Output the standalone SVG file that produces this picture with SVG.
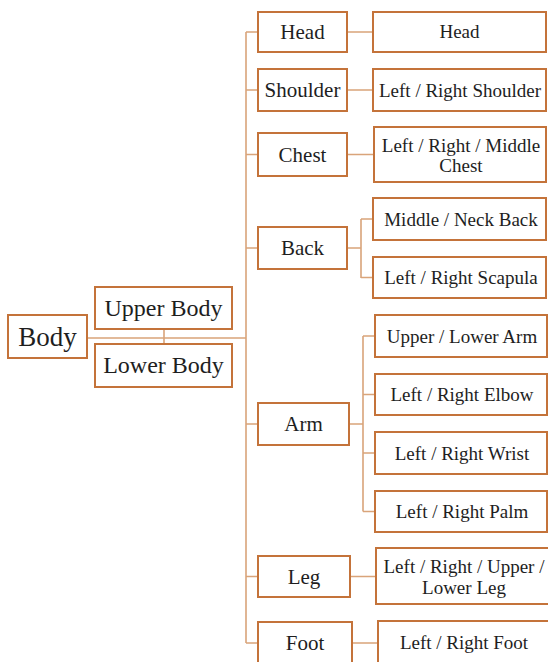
<svg xmlns="http://www.w3.org/2000/svg" width="548" height="662" viewBox="0 0 548 662">
<style>
.box{fill:#fff;stroke:#C4733A;stroke-width:2}
.ln{fill:none;stroke:#D9A47A;stroke-width:1.6}
text{font-family:"Liberation Serif","Times New Roman",serif;fill:#1e1e1e;text-anchor:middle}
.t27{font-size:27px}.t24{font-size:24px}.t21{font-size:21px}.t19{font-size:19px}
</style>
<rect width="548" height="662" fill="#fff"/>
<g id="connectors">
<path class="ln" d="M87 338H246M164 329V344M246 32V643"/>
<path class="ln" d="M246 32H258M246 90H258M246 154.5H258M246 248H258M246 424H258M246 576.5H258M246 643H258"/>
<path class="ln" d="M347 32H373M347 90H373M347 154.5H374M347 248H361M361 219V278M361 219H373M361 277.5H373"/>
<path class="ln" d="M349 424H363M363 336V511.5M363 336H375M363 394.5H375M363 453H375M363 511.5H375M350 576.5H376M352 643H378"/>
</g>
<g id="body"><rect class="box" x="8" y="315" width="79" height="43"/><text class="t27" x="47.5" y="346">Body</text></g>
<g id="upper-body"><rect class="box" x="95" y="287" width="137" height="42"/><text class="t24" x="163.5" y="316">Upper Body</text></g>
<g id="lower-body"><rect class="box" x="95" y="344" width="137" height="43"/><text class="t24" x="163.5" y="373">Lower Body</text></g>
<g id="head"><rect class="box" x="258" y="12" width="89" height="40"/><text class="t21" x="302.5" y="39">Head</text></g>
<g id="shoulder"><rect class="box" x="258" y="69" width="89" height="42"/><text class="t21" x="302.5" y="97">Shoulder</text></g>
<g id="chest"><rect class="box" x="258" y="133" width="89" height="43"/><text class="t21" x="302.5" y="162">Chest</text></g>
<g id="back"><rect class="box" x="258" y="227" width="89" height="42"/><text class="t21" x="302.5" y="255">Back</text></g>
<g id="arm"><rect class="box" x="258" y="403" width="91" height="42"/><text class="t21" x="303.5" y="431">Arm</text></g>
<g id="leg"><rect class="box" x="258" y="556" width="92" height="41"/><text class="t21" x="304" y="584">Leg</text></g>
<g id="foot"><rect class="box" x="258" y="622" width="94" height="50"/><text class="t21" x="305" y="650">Foot</text></g>
<g id="head-r"><rect class="box" x="373" y="12" width="173" height="40"/><text class="t19" x="459.5" y="38">Head</text></g>
<g id="shoulder-r"><rect class="box" x="373" y="69" width="173" height="42"/><text class="t19" x="460" y="96.5">Left / Right Shoulder</text></g>
<g id="chest-r"><rect class="box" x="374" y="127" width="172" height="55"/><text class="t19" x="461" y="152">Left / Right / Middle</text><text class="t19" x="461" y="172">Chest</text></g>
<g id="neck-back"><rect class="box" x="373" y="198" width="173" height="42"/><text class="t19" x="461" y="225.5">Middle / Neck Back</text></g>
<g id="scapula"><rect class="box" x="373" y="257" width="173" height="41"/><text class="t19" x="461" y="284">Left / Right Scapula</text></g>
<g id="upper-lower-arm"><rect class="box" x="375" y="315" width="172" height="42"/><text class="t19" x="462" y="342.5">Upper / Lower Arm</text></g>
<g id="elbow"><rect class="box" x="375" y="374" width="172" height="41"/><text class="t19" x="462" y="401">Left / Right Elbow</text></g>
<g id="wrist"><rect class="box" x="375" y="432" width="172" height="42"/><text class="t19" x="462" y="459.5">Left / Right Wrist</text></g>
<g id="palm"><rect class="box" x="375" y="491" width="172" height="41"/><text class="t19" x="462" y="518">Left / Right Palm</text></g>
<g id="leg-r"><rect class="box" x="376" y="548" width="176" height="56"/><text class="t19" x="464" y="572.5">Left / Right / Upper /</text><text class="t19" x="464" y="593.5">Lower Leg</text></g>
<g id="foot-r"><rect class="box" x="378" y="621" width="176" height="50"/><text class="t19" x="464" y="649">Left / Right Foot</text></g>
</svg>
